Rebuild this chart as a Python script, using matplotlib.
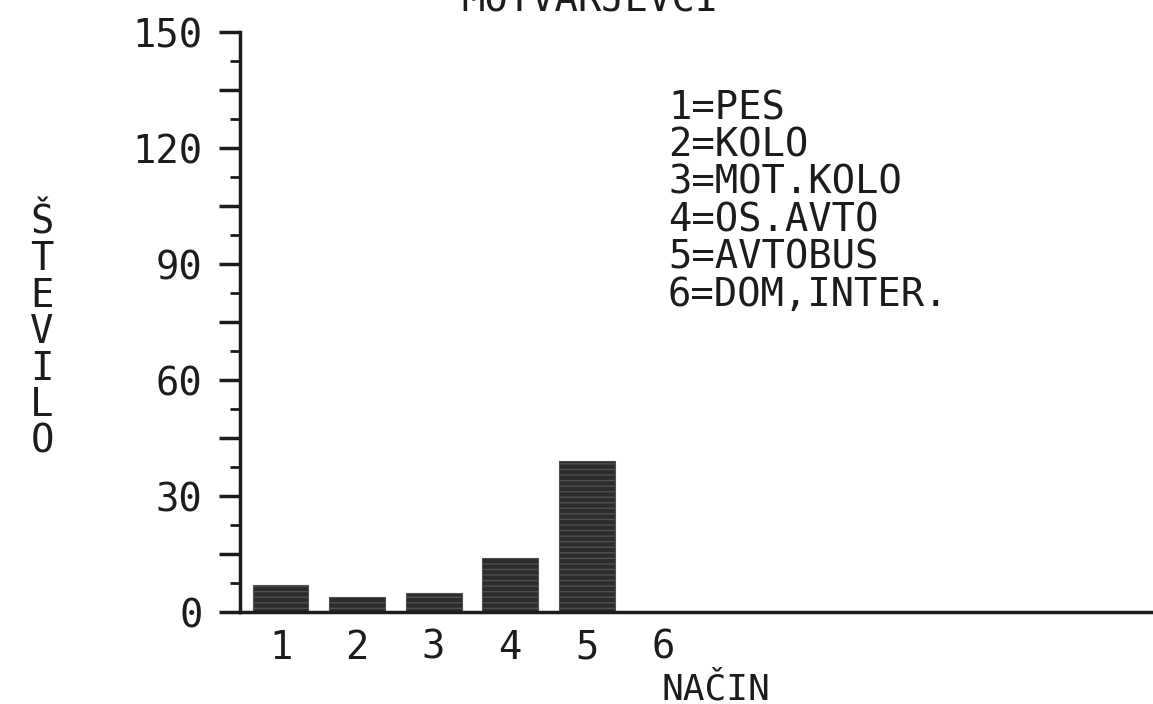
import numpy as np
import matplotlib.pyplot as plt
from matplotlib.ticker import MultipleLocator

# Podatki
nacin = [1, 2, 3, 4, 5, 6]
stevilo = [7, 4, 5, 14, 39, 0]
legenda = ['1=PES', '2=KOLO', '3=MOT.KOLO', '4=OS.AVTO', '5=AVTOBUS', '6=DOM,INTER.']
naslov = 'MOTVARJEVCI'

plt.rcParams['font.family'] = ['DejaVu Sans Mono', 'DejaVu Sans']
ink = '#1c1c1c'
fs = 28

fig = plt.figure(figsize=(11.53, 7.04), dpi=100)
ax = fig.add_axes([240 / 1153, 92 / 704, 1 - 240 / 1153, 580 / 704])

ax.bar(nacin, stevilo, width=0.73, color='#2c2c2c', edgecolor='#505050',
       hatch='---', linewidth=0.8, zorder=2)

ax.set_xlim(0.47, 12.4)
ax.set_ylim(0, 150)

# os y: dolge crtice na 15, kratke na 7.5, napisi na 30
ax.set_yticks(np.arange(0, 151, 15))
ax.set_yticklabels([str(v) if v % 30 == 0 else '' for v in range(0, 151, 15)])
ax.yaxis.set_minor_locator(MultipleLocator(7.5))
ax.tick_params(axis='y', which='major', length=15, width=2.5, color=ink,
               direction='out', pad=12, labelsize=fs, labelcolor=ink)
ax.tick_params(axis='y', which='minor', length=7, width=2, color=ink,
               direction='out')

ax.set_xticks(nacin)
ax.set_xticklabels([str(n) for n in nacin])
ax.tick_params(axis='x', length=0, pad=12, labelsize=fs, labelcolor=ink)

for s in ['top', 'right']:
    ax.spines[s].set_visible(False)
for s in ['left', 'bottom']:
    ax.spines[s].set_linewidth(2.5)
    ax.spines[s].set_color(ink)

# oznake osi
fig.text(716 / 1153, 1 - 689 / 704, 'NAČIN', ha='center', va='center',
         fontsize=26, color=ink)
fig.text(42 / 1153, 1 - 332 / 704, '\n'.join('ŠTEVILO'), ha='center', va='center',
         fontsize=fs, color=ink, linespacing=0.95)

# naslov (odrezan na vrhu, kot na izvirniku)
fig.text(590 / 1153, 1 - 12 / 704, naslov, ha='center', va='baseline',
         fontsize=fs, color=ink)

# legenda nacinov
for i, lab in enumerate(legenda):
    fig.text(668 / 1153, 1 - (108 + 37.4 * i) / 704, lab, ha='left', va='center',
             fontsize=fs, color=ink)

fig.savefig('out.png', dpi=100)
